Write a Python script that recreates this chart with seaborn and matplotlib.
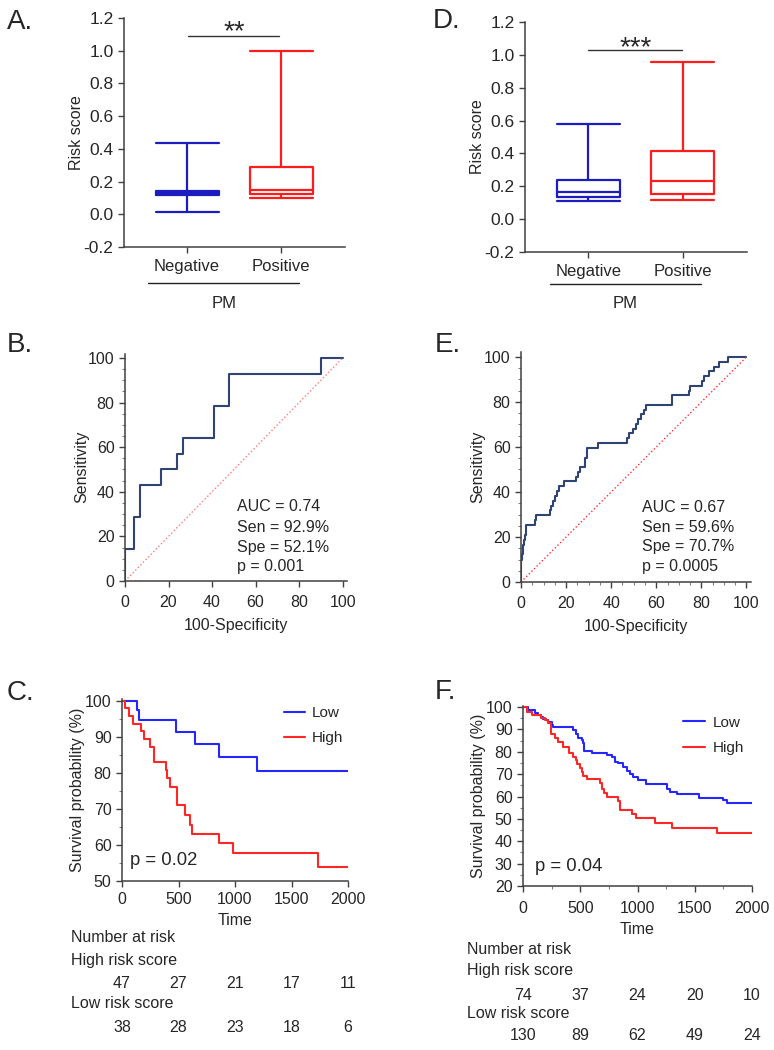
"""
Risk score panels: box plots (A, D), ROC curves (B, E), Kaplan-Meier curves (C, F)
"""
import numpy as np
import pandas as pd
import seaborn as sns
import matplotlib.pyplot as plt
import matplotlib.transforms as mtransforms
from matplotlib.ticker import MultipleLocator

sns.set_theme(style='ticks')
plt.rcParams['font.family'] = ['Liberation Sans', 'DejaVu Sans']
plt.rcParams['axes.unicode_minus'] = False

# ---- data ----
GROUPS = ['Negative', 'Positive']
# box summaries: min, q1, median, q3, max
A_NEG = [0.014, 0.115, 0.13, 0.144, 0.433]
A_POS = [0.101, 0.125, 0.15, 0.288, 0.998]
D_NEG = [0.112, 0.134, 0.164, 0.24, 0.58]
D_POS = [0.118, 0.154, 0.231, 0.412, 0.954]

# ROC curves (100-specificity, sensitivity) at each step corner
B_FPR = [0, 0, 4.1, 6.7, 16.6, 23.8, 26.5, 40.9, 47.7, 90.1, 100]
B_TPR = [0, 14.3, 28.6, 42.9, 50.0, 57.1, 64.3, 78.6, 92.9, 100, 100]
B_STATS = ['AUC = 0.74', 'Sen = 92.9%', 'Spe = 52.1%', 'p = 0.001']

E_FPR = [0, 0, 0.4, 0.9, 1.3, 1.8, 2.4, 6.0, 6.8, 12.7, 13.4, 14.3, 15.2, 16.1,
         16.7, 18.9, 24.2, 25.2, 26.1, 28.2, 28.6, 29.2, 34.1, 47.0, 48.1, 49.5,
         51.0, 52.0, 53.2, 54.4, 55.5, 66.8, 74.6, 75.1, 80.2, 81.0, 83.5, 85.7,
         87.9, 91.9, 100]
E_TPR = [0, 9.6, 12.6, 16.3, 18.5, 21.0, 25.5, 27.6, 29.8, 31.9, 34.0, 36.2, 38.3,
         40.4, 42.6, 44.7, 46.8, 48.9, 51.1, 53.2, 55.3, 59.6, 61.7, 63.8, 66.0,
         68.1, 70.2, 72.3, 74.5, 76.6, 78.7, 83.0, 85.1, 87.2, 89.4, 91.5, 93.6,
         95.7, 97.9, 100, 100]
E_STATS = ['AUC = 0.67', 'Sen = 59.6%', 'Spe = 70.7%', 'p = 0.0005']
CHANCE = [0, 100]

# Kaplan-Meier curves (time, survival %)
C_LOW_T = [0, 133, 150, 481, 649, 858, 1192, 2000]
C_LOW_S = [100, 97.4, 94.7, 91.3, 87.9, 84.3, 80.4, 80.4]
C_HIGH_T = [0, 29, 59, 97, 165, 195, 245, 280, 283, 386, 401, 422, 487, 490,
            555, 599, 619, 858, 982, 1735, 2000]
C_HIGH_S = [100, 97.9, 95.7, 93.6, 91.5, 89.4, 87.2, 85.1, 83.0, 80.8, 78.5, 76.0,
            73.6, 71.0, 68.2, 65.6, 63.1, 60.5, 57.7, 53.8, 53.8]

F_LOW_T = [0, 47, 105, 134, 154, 178, 201, 221, 250, 265, 434, 463, 483, 512, 527,
           536, 600, 731, 774, 803, 833, 876, 905, 934, 964, 1007, 1074, 1255,
           1284, 1342, 1540, 1750, 1785, 2000]
F_LOW_S = [100, 98.7, 97.2, 96.4, 95.7, 94.9, 94.2, 93.4, 92.0, 90.9, 89.7, 88.2,
           86.4, 85.5, 83.8, 80.5, 79.6, 78.8, 77.8, 75.6, 74.8, 73.3, 71.5, 70.0,
           68.6, 67.4, 65.6, 63.6, 62.1, 61.0, 59.5, 58.4, 56.9, 56.9]
F_HIGH_T = [0, 32, 76, 154, 192, 221, 242, 280, 309, 352, 405, 440, 460, 475, 498,
            512, 527, 556, 672, 687, 707, 731, 833, 847, 949, 987, 1153, 1298,
            1697, 2000]
F_HIGH_S = [100, 97.9, 96.4, 95.3, 94.2, 92.7, 88.2, 86.0, 84.5, 82.3, 79.3, 77.8,
            76.3, 74.5, 72.6, 71.1, 69.2, 67.7, 65.9, 63.6, 61.4, 59.9, 58.1, 54.0,
            52.4, 50.2, 48.0, 45.8, 43.5, 43.5]

RISK_TIMES = [0, 500, 1000, 1500, 2000]
C_HIGH_RISK = [47, 27, 21, 17, 11]
C_LOW_RISK = [38, 28, 23, 18, 6]
F_HIGH_RISK = [74, 37, 24, 20, 10]
F_LOW_RISK = [130, 89, 62, 49, 24]

# ---- styling ----
BOX_BLUE = '#1c1cc0'
BOX_RED = '#ff1c1c'
KM_BLUE = '#2626ff'
KM_RED = '#ff2626'
ROC_NAVY = '#2f4472'
AXIS_GREY = '#404040'
W, H = 774, 1050

fig = plt.figure(figsize=(W / 100, H / 100), dpi=100)


def px_axes(left, top, right, bottom):
    """Add an axes given its pixel box (origin top-left)."""
    return fig.add_axes([left / W, 1 - bottom / H, (right - left) / W, (bottom - top) / H])


def style_axes(ax, labelsize=11.5):
    sns.despine(ax=ax)
    for side in ['left', 'bottom']:
        ax.spines[side].set_color(AXIS_GREY)
        ax.spines[side].set_linewidth(1.1)
    ax.tick_params(which='major', direction='out', length=4.5, width=1.0,
                   color=AXIS_GREY, labelsize=labelsize, pad=3)
    ax.tick_params(which='minor', direction='out', length=2.5, width=0.8, color='#808080')


def panel_letter(x, y, letter):
    fig.text(x / W, 1 - y / H, letter, fontsize=20, ha='left', va='baseline')


def draw_box(ax, neg, pos, stars, bar, star_y, line_y, pm_y):
    """Min-max box plot of the two PM groups with significance bar."""
    df = pd.DataFrame({'group': [GROUPS[0]] * len(neg) + [GROUPS[1]] * len(pos),
                       'score': neg + pos})
    sns.boxplot(data=df, x='group', y='score', hue='group', palette=[BOX_BLUE, BOX_RED],
                width=0.67, whis=(0, 100), fill=False, linewidth=1.6, legend=False,
                capwidths=0.67, ax=ax)
    style_axes(ax, labelsize=12.5)
    ax.set_xlim(-0.67, 1.68)
    ax.set_ylim(-0.2, 1.2)
    ax.set_yticks(np.arange(-0.2, 1.21, 0.2))
    ax.yaxis.set_major_formatter('{x:.1f}')
    ax.tick_params(axis='x', labelsize=12, pad=4)
    ax.set_xlabel('')
    ax.set_ylabel('Risk score', fontsize=11.5, labelpad=0)

    # significance bar
    ax.plot(bar[:2], [bar[2], bar[2]], color='#333333', lw=1.0)
    ax.text(0.5, star_y, stars, ha='center', va='baseline', fontsize=20)

    # group line under the tick labels
    trans = mtransforms.blended_transform_factory(ax.transData, ax.transAxes)
    ax.plot([-0.41, 1.19], [line_y, line_y], transform=trans, clip_on=False,
            color='#222222', lw=1.0)
    ax.text(0.39, pm_y, 'PM', transform=trans, ha='center', va='center', fontsize=12)


def draw_roc(ax, fpr, tpr, stats, text_x, text_ys, diag_color, minor_x):
    sns.lineplot(x=fpr, y=tpr, drawstyle='steps-post', estimator=None, sort=False,
                 color=ROC_NAVY, lw=1.5, ax=ax)
    sns.lineplot(x=CHANCE, y=CHANCE, estimator=None, color=diag_color, lw=1.0,
                 linestyle=':', ax=ax)
    style_axes(ax)
    ax.tick_params(axis='x', pad=5.5)
    ax.set_xlim(0, 102)
    ax.set_ylim(0, 102)
    ax.set_xticks(range(0, 101, 20))
    ax.set_yticks(range(0, 101, 20))
    ax.yaxis.set_minor_locator(MultipleLocator(5))
    if minor_x:
        ax.xaxis.set_minor_locator(MultipleLocator(5))
    ax.set_xlabel('100-Specificity', fontsize=11.5, labelpad=6)
    ax.set_ylabel('Sensitivity', fontsize=11.5, labelpad=-1)
    for line, y in zip(stats, text_ys):
        ax.text(text_x, y, line, fontsize=11.5, ha='left', va='center')


def draw_km(ax, low_t, low_s, high_t, high_s, ylow, p_text, p_xy, leg_anchor, leg_kw,
            tick_pad, time_pad):
    df = pd.concat([
        pd.DataFrame({'time': low_t, 'surv': low_s, 'group': 'Low'}),
        pd.DataFrame({'time': high_t, 'surv': high_s, 'group': 'High'}),
    ])
    sns.lineplot(data=df, x='time', y='surv', hue='group', hue_order=['Low', 'High'],
                 palette={'Low': KM_BLUE, 'High': KM_RED}, drawstyle='steps-post',
                 estimator=None, sort=False, lw=1.5, ax=ax)
    style_axes(ax)
    ax.tick_params(axis='x', pad=tick_pad)
    ax.set_xlim(0, 2000)
    ax.set_ylim(ylow, 100.5)
    ax.set_xticks(RISK_TIMES)
    ax.set_yticks(range(ylow, 101, 10))
    ax.yaxis.set_minor_locator(MultipleLocator(5))
    ax.set_xlabel('Time', fontsize=11.5, labelpad=time_pad)
    ax.set_ylabel('Survival probability (%)', fontsize=11.5, labelpad=0)
    ax.text(p_xy[0], p_xy[1], p_text, fontsize=13.3, ha='left', va='center')
    sns.move_legend(ax, loc='upper left', bbox_to_anchor=leg_anchor, frameon=False,
                    title=None, fontsize=11, borderpad=0, borderaxespad=0, **leg_kw)


def risk_table(ax, label_x, rows_y, high, low, size):
    """Number-at-risk rows under a survival plot."""
    trans = mtransforms.blended_transform_factory(ax.transData, fig.transFigure)
    labels = ['Number at risk', 'High risk score', None, 'Low risk score', None]
    for label, y in zip(labels, rows_y):
        if label:
            fig.text(label_x / W, 1 - y / H, label, fontsize=size, ha='left', va='center')
    for counts, y in [(high, rows_y[2]), (low, rows_y[4])]:
        for t, n in zip(RISK_TIMES, counts):
            ax.text(t, 1 - y / H, str(n), transform=trans, fontsize=size,
                    ha='center', va='center')


# ---- A / D: box plots ----
ax_a = px_axes(124, 18, 345, 247)
draw_box(ax_a, A_NEG, A_POS, '**', (0.01, 0.98, 1.09), 1.07, -0.157, -0.245)
panel_letter(7, 29, 'A.')

ax_d = px_axes(525, 22, 747, 252)
draw_box(ax_d, D_NEG, D_POS, '***', (0.0, 0.99, 1.03), 1.0, -0.137, -0.224)
panel_letter(433, 28, 'D.')

# ---- B / E: ROC curves ----
ax_b = px_axes(125, 353.5, 347, 581)
draw_roc(ax_b, B_FPR, B_TPR, B_STATS, 51.4, [33.2, 24.2, 15.2, 6.3], '#ff7a7a', False)
panel_letter(7, 352, 'B.')

ax_e = px_axes(521, 352.5, 751, 582)
draw_roc(ax_e, E_FPR, E_TPR, E_STATS, 53.5, [32.9, 24.0, 15.6, 6.7], '#ff3030', True)
panel_letter(435, 352, 'E.')

# ---- C / F: survival curves ----
ax_c = px_axes(122, 699, 348, 881)
draw_km(ax_c, C_LOW_T, C_LOW_S, C_HIGH_T, C_HIGH_S, 50, 'p = 0.02', (71, 55.6),
        (0.717, 0.959), dict(handlelength=1.35, handletextpad=0.47, labelspacing=0.7),
        tick_pad=3.5, time_pad=4.5)
risk_table(ax_c, 71, [938, 961, 983, 1004, 1027], C_HIGH_RISK, C_LOW_RISK, 11.5)
panel_letter(7, 700, 'C.')

ax_f = px_axes(523, 706, 752, 886)
draw_km(ax_f, F_LOW_T, F_LOW_S, F_HIGH_T, F_HIGH_S, 20, 'p = 0.04', (105, 28.5),
        (0.699, 0.947), dict(handlelength=1.41, handletextpad=0.54, labelspacing=0.77),
        tick_pad=6, time_pad=4.5)
ax_f.xaxis.set_minor_locator(MultipleLocator(250))
risk_table(ax_f, 467, [949, 970, 995, 1013, 1035], F_HIGH_RISK, F_LOW_RISK, 11.5)
panel_letter(435, 699, 'F.')

fig.savefig('out.png', dpi=100)
